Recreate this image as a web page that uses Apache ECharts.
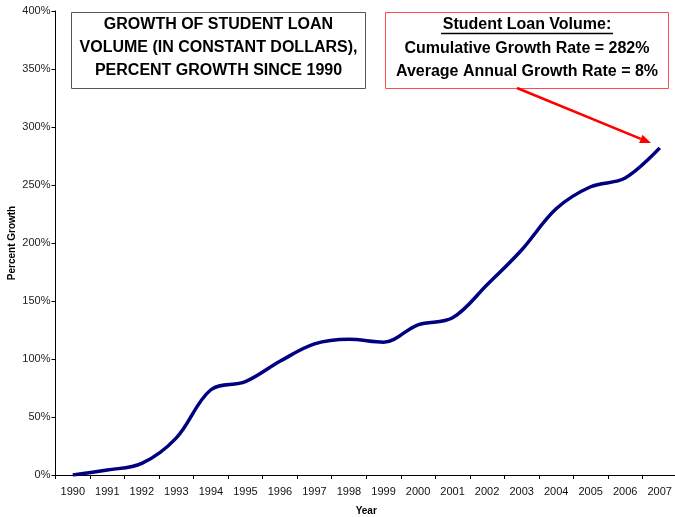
<!DOCTYPE html>
<html>
<head>
<meta charset="utf-8">
<script src="https://cdn.jsdelivr.net/npm/echarts@6/dist/echarts.min.js"></script>
<style>
  html, body { margin: 0; padding: 0; background: #fff; }
  #chart { width: 675px; height: 517px; }
</style>
</head>
<body>
<div id="chart"></div>
<script>
// Student loan volume, percent growth since 1990 (constant dollars)
const years = ['1990','1991','1992','1993','1994','1995','1996','1997','1998',
               '1999','2000','2001','2002','2003','2004','2005','2006','2007'];
const growthPct = [0, 4.3, 10, 32, 73.5, 80.5, 98, 113, 117,
                   114.5, 129.5, 135.5, 164, 194, 229.5, 248.5, 256, 282];
const yTicks = { min: 0, max: 400, step: 50 };

const titleLines = ['GROWTH OF STUDENT LOAN', 'VOLUME (IN CONSTANT DOLLARS),', 'PERCENT GROWTH SINCE 1990'];
const noteLines = ['Student Loan Volume:', 'Cumulative Growth Rate = 282%', 'Average Annual Growth Rate = 8%'];

const FONT = '"Liberation Sans", Arial, sans-serif';
const chart = echarts.init(document.getElementById('chart'), null, { renderer: 'canvas' });

function textEl(str, x, y, size) {
  return {
    type: 'text', x: x, y: y,
    style: { text: str, fill: '#000', font: 'bold ' + size + 'px ' + FONT,
             align: 'center', verticalAlign: 'middle' }
  };
}

// Arrow from the note box down to the last point
const arrowFrom = [517, 88], arrowTo = [651, 143];
const ang = Math.atan2(arrowTo[1] - arrowFrom[1], arrowTo[0] - arrowFrom[0]);
const headLen = 11, headHalf = 4.5;
const baseX = arrowTo[0] - headLen * Math.cos(ang), baseY = arrowTo[1] - headLen * Math.sin(ang);
const headPts = [
  arrowTo,
  [baseX + headHalf * Math.sin(ang), baseY - headHalf * Math.cos(ang)],
  [baseX - headHalf * Math.sin(ang), baseY + headHalf * Math.cos(ang)]
];

const graphics = [
  { type: 'rect', shape: { x: 71.5, y: 12.5, width: 294, height: 76 },
    style: { fill: '#fff', stroke: '#555', lineWidth: 1 } },
  textEl(titleLines[0], 218.5, 25, 16),
  textEl(titleLines[1], 218.5, 48, 16),
  textEl(titleLines[2], 218.5, 71, 16),
  { type: 'rect', shape: { x: 385.5, y: 12.5, width: 283, height: 76 },
    style: { fill: '#fff', stroke: '#ff4d4d', lineWidth: 1 } },
  textEl(noteLines[0], 527, 25, 16),
  { type: 'line', shape: { x1: 441, y1: 33.5, x2: 613, y2: 33.5 },
    style: { stroke: '#000', lineWidth: 1.3 } },
  textEl(noteLines[1], 527, 48.5, 16),
  textEl(noteLines[2], 527, 72, 16),
  { type: 'line', shape: { x1: arrowFrom[0], y1: arrowFrom[1], x2: baseX, y2: baseY },
    style: { stroke: '#ff0000', lineWidth: 2.5 } },
  { type: 'polygon', shape: { points: headPts }, style: { fill: '#ff0000' } }
];

chart.setOption({
  animation: false,
  backgroundColor: '#fff',
  grid: { left: 55.5, right: -2, top: 11, bottom: 42, containLabel: false, outerBoundsMode: 'none' },
  xAxis: {
    type: 'category',
    data: years,
    boundaryGap: true,
    name: 'Year',
    nameLocation: 'middle',
    nameGap: 31,
    nameMoveOverlap: false,
    nameTextStyle: { fontFamily: FONT, fontWeight: 'bold', fontSize: 10, color: '#000' },
    axisLine: { lineStyle: { color: '#000', width: 1 } },
    axisTick: { show: true, length: 4, inside: false, alignWithLabel: false, lineStyle: { color: '#000' } },
    axisLabel: { fontFamily: FONT, fontSize: 11, color: '#111', margin: 11, interval: 0 },
    splitLine: { show: false }
  },
  yAxis: {
    type: 'value',
    min: yTicks.min, max: yTicks.max, interval: yTicks.step,
    name: 'Percent Growth',
    nameLocation: 'middle',
    nameGap: 38,
    nameRotate: 90,
    nameMoveOverlap: false,
    nameTextStyle: { fontFamily: FONT, fontWeight: 'bold', fontSize: 10, color: '#000' },
    axisLine: { show: true, lineStyle: { color: '#000', width: 1 } },
    axisTick: { show: true, length: 4, inside: false, lineStyle: { color: '#000' } },
    axisLabel: { fontFamily: FONT, fontSize: 11, color: '#222', margin: 5, formatter: '{value}%' },
    splitLine: { show: false }
  },
  series: [{
    type: 'line',
    data: growthPct,
    smooth: 0.35,
    symbol: 'none',
    lineStyle: { color: '#000080', width: 3.5 }
  }],
  graphic: graphics
});
</script>
</body>
</html>
